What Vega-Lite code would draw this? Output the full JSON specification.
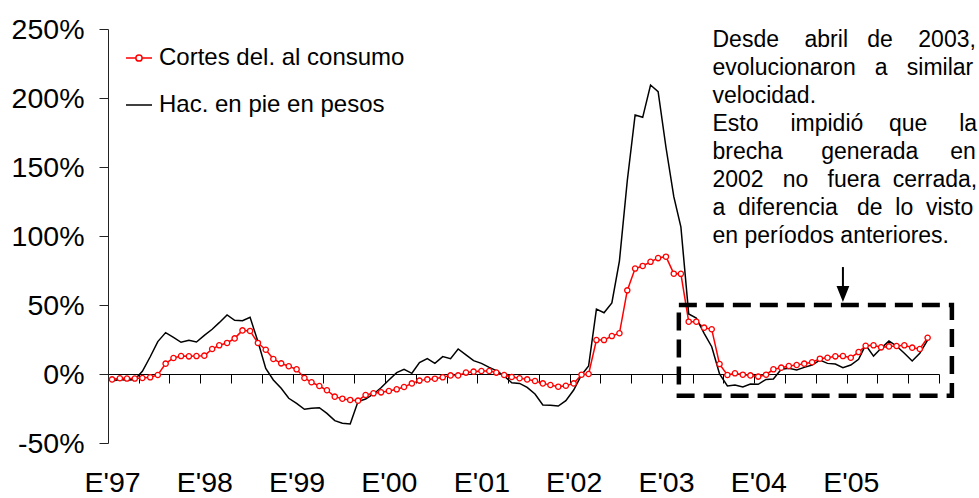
{
  "$schema": "https://vega.github.io/schema/vega-lite/v6.json",
  "width": 831,
  "height": 414,
  "autosize": {"type": "none"},
  "padding": {"left": 108, "top": 29, "right": 40, "bottom": 55},
  "background": "white",
  "config": {"view": {"stroke": null}, "font": "Liberation Sans"},
  "datasets": {
    "mensual": [
      {"fecha":"1997-01","cortes":-3.9,"hacienda":-5},
      {"fecha":"1997-02","cortes":-3.1,"hacienda":-4},
      {"fecha":"1997-03","cortes":-3.3,"hacienda":-4.5},
      {"fecha":"1997-04","cortes":-3.3,"hacienda":-4},
      {"fecha":"1997-05","cortes":-2.9,"hacienda":2},
      {"fecha":"1997-06","cortes":-2.4,"hacienda":12.5},
      {"fecha":"1997-07","cortes":-0.7,"hacienda":23.5},
      {"fecha":"1997-08","cortes":7.5,"hacienda":30},
      {"fecha":"1997-09","cortes":11.6,"hacienda":26.6},
      {"fecha":"1997-10","cortes":13.0,"hacienda":23},
      {"fecha":"1997-11","cortes":12.8,"hacienda":24.4},
      {"fecha":"1997-12","cortes":13.0,"hacienda":23.2},
      {"fecha":"1998-01","cortes":13.3,"hacienda":28},
      {"fecha":"1998-02","cortes":18.1,"hacienda":32.4},
      {"fecha":"1998-03","cortes":20.8,"hacienda":37.2},
      {"fecha":"1998-04","cortes":22.5,"hacienda":42.8},
      {"fecha":"1998-05","cortes":25.8,"hacienda":38.9},
      {"fecha":"1998-06","cortes":31.6,"hacienda":38.6},
      {"fecha":"1998-07","cortes":31.2,"hacienda":41.1},
      {"fecha":"1998-08","cortes":22.5,"hacienda":23.5},
      {"fecha":"1998-09","cortes":17.6,"hacienda":4.1},
      {"fecha":"1998-10","cortes":10.9,"hacienda":-4.3},
      {"fecha":"1998-11","cortes":7.7,"hacienda":-10.4},
      {"fecha":"1998-12","cortes":5.6,"hacienda":-17.6},
      {"fecha":"1999-01","cortes":3.4,"hacienda":-21.3},
      {"fecha":"1999-02","cortes":-2.9,"hacienda":-25.6},
      {"fecha":"1999-03","cortes":-6.0,"hacienda":-24.9},
      {"fecha":"1999-04","cortes":-8.7,"hacienda":-24.4},
      {"fecha":"1999-05","cortes":-11.8,"hacienda":-28.5},
      {"fecha":"1999-06","cortes":-16.4,"hacienda":-33.8},
      {"fecha":"1999-07","cortes":-17.9,"hacienda":-35.7},
      {"fecha":"1999-08","cortes":-18.8,"hacienda":-36.2},
      {"fecha":"1999-09","cortes":-19.3,"hacienda":-20},
      {"fecha":"1999-10","cortes":-15.2,"hacienda":-18.1},
      {"fecha":"1999-11","cortes":-14.0,"hacienda":-14.5},
      {"fecha":"1999-12","cortes":-13.3,"hacienda":-10},
      {"fecha":"2000-01","cortes":-12.3,"hacienda":-4.3},
      {"fecha":"2000-02","cortes":-11.1,"hacienda":1.0},
      {"fecha":"2000-03","cortes":-9.4,"hacienda":3.4},
      {"fecha":"2000-04","cortes":-6.8,"hacienda":0.5},
      {"fecha":"2000-05","cortes":-4.8,"hacienda":8.2},
      {"fecha":"2000-06","cortes":-3.9,"hacienda":11.1},
      {"fecha":"2000-07","cortes":-3.4,"hacienda":7.7},
      {"fecha":"2000-08","cortes":-2.4,"hacienda":12.6},
      {"fecha":"2000-09","cortes":-1.0,"hacienda":11.1},
      {"fecha":"2000-10","cortes":-1.0,"hacienda":18.1},
      {"fecha":"2000-11","cortes":1.0,"hacienda":13.8},
      {"fecha":"2000-12","cortes":1.7,"hacienda":9.7},
      {"fecha":"2001-01","cortes":2.2,"hacienda":7.7},
      {"fecha":"2001-02","cortes":2.2,"hacienda":4.8},
      {"fecha":"2001-03","cortes":1.0,"hacienda":2.4},
      {"fecha":"2001-04","cortes":-0.7,"hacienda":-1.4},
      {"fecha":"2001-05","cortes":-2.2,"hacienda":-6.3},
      {"fecha":"2001-06","cortes":-3.1,"hacienda":-6.8},
      {"fecha":"2001-07","cortes":-3.9,"hacienda":-9.7},
      {"fecha":"2001-08","cortes":-5.1,"hacienda":-14.5},
      {"fecha":"2001-09","cortes":-6.8,"hacienda":-22.5},
      {"fecha":"2001-10","cortes":-8.0,"hacienda":-22.7},
      {"fecha":"2001-11","cortes":-9.2,"hacienda":-23.2},
      {"fecha":"2001-12","cortes":-8.5,"hacienda":-19.3},
      {"fecha":"2002-01","cortes":-6.8,"hacienda":-11.6},
      {"fecha":"2002-02","cortes":-0.5,"hacienda":-0.7},
      {"fecha":"2002-03","cortes":0,"hacienda":5.8},
      {"fecha":"2002-04","cortes":24.6,"hacienda":47},
      {"fecha":"2002-05","cortes":24.6,"hacienda":44.4},
      {"fecha":"2002-06","cortes":27.5,"hacienda":51.5},
      {"fecha":"2002-07","cortes":29.5,"hacienda":82},
      {"fecha":"2002-08","cortes":60.6,"hacienda":140},
      {"fecha":"2002-09","cortes":76.4,"hacienda":187.7},
      {"fecha":"2002-10","cortes":78.3,"hacienda":186},
      {"fecha":"2002-11","cortes":81.3,"hacienda":209.4},
      {"fecha":"2002-12","cortes":84,"hacienda":204.6},
      {"fecha":"2003-01","cortes":85,"hacienda":164.3},
      {"fecha":"2003-02","cortes":72.7,"hacienda":128.5},
      {"fecha":"2003-03","cortes":72.6,"hacienda":106.7},
      {"fecha":"2003-04","cortes":37.9,"hacienda":43.5},
      {"fecha":"2003-05","cortes":37.9,"hacienda":40.5},
      {"fecha":"2003-06","cortes":33.6,"hacienda":29.5},
      {"fecha":"2003-07","cortes":32.4,"hacienda":19.8},
      {"fecha":"2003-08","cortes":7.2,"hacienda":0},
      {"fecha":"2003-09","cortes":-0.7,"hacienda":-8.7},
      {"fecha":"2003-10","cortes":0.5,"hacienda":-8.0},
      {"fecha":"2003-11","cortes":-0.5,"hacienda":-9.4},
      {"fecha":"2003-12","cortes":-1.0,"hacienda":-7.2},
      {"fecha":"2004-01","cortes":-1.9,"hacienda":-7.5},
      {"fecha":"2004-02","cortes":-0.5,"hacienda":-3.9},
      {"fecha":"2004-03","cortes":3.4,"hacienda":-3.6},
      {"fecha":"2004-04","cortes":4.6,"hacienda":3.4},
      {"fecha":"2004-05","cortes":5.8,"hacienda":4.1},
      {"fecha":"2004-06","cortes":6.5,"hacienda":2.9},
      {"fecha":"2004-07","cortes":7.5,"hacienda":4.8},
      {"fecha":"2004-08","cortes":8.5,"hacienda":6.5},
      {"fecha":"2004-09","cortes":11.1,"hacienda":10.1},
      {"fecha":"2004-10","cortes":11.8,"hacienda":7.7},
      {"fecha":"2004-11","cortes":12.8,"hacienda":7.2},
      {"fecha":"2004-12","cortes":13.0,"hacienda":4.6},
      {"fecha":"2005-01","cortes":11.8,"hacienda":6.5},
      {"fecha":"2005-02","cortes":15.9,"hacienda":10.6},
      {"fecha":"2005-03","cortes":20.5,"hacienda":21},
      {"fecha":"2005-04","cortes":20.8,"hacienda":13.0},
      {"fecha":"2005-05","cortes":19.3,"hacienda":18.6},
      {"fecha":"2005-06","cortes":20.0,"hacienda":23.9},
      {"fecha":"2005-07","cortes":20.3,"hacienda":20.3},
      {"fecha":"2005-08","cortes":20.8,"hacienda":15.0},
      {"fecha":"2005-09","cortes":19.1,"hacienda":9.4},
      {"fecha":"2005-10","cortes":18.1,"hacienda":15.0},
      {"fecha":"2005-11","cortes":26.3,"hacienda":24.6}
    ]
  },
  "resolve": {"axis": {"x": "independent", "y": "independent"}},
  "layer": [
    {
      "data": {"name": "mensual"},
      "transform": [{"fold": ["cortes", "hacienda"], "as": ["serie", "valor"]}],
      "mark": {"type": "line", "strokeWidth": 1.5},
      "encoding": {
        "x": {
          "field": "fecha", "type": "temporal",
          "scale": {"type": "utc", "domain": [{"year": 1996, "month": 12, "date": 16, "utc": true}, {"year": 2005, "month": 12, "date": 16, "utc": true}]},
          "axis": {
            "orient": "bottom", "offset": -69, "title": null, "grid": false, "labels": false,
            "tickSize": 9, "tickColor": "#000000", "domainColor": "#000000", "tickWidth": 1, "domainWidth": 1,
            "values": [
              {"year":1996,"month":12,"date":16,"utc":true},
              {"year":1997,"month":4,"date":16,"utc":true},{"year":1997,"month":8,"date":16,"utc":true},{"year":1997,"month":12,"date":16,"utc":true},
              {"year":1998,"month":4,"date":16,"utc":true},{"year":1998,"month":8,"date":16,"utc":true},{"year":1998,"month":12,"date":16,"utc":true},
              {"year":1999,"month":4,"date":16,"utc":true},{"year":1999,"month":8,"date":16,"utc":true},{"year":1999,"month":12,"date":16,"utc":true},
              {"year":2000,"month":4,"date":16,"utc":true},{"year":2000,"month":8,"date":16,"utc":true},{"year":2000,"month":12,"date":16,"utc":true},
              {"year":2001,"month":4,"date":16,"utc":true},{"year":2001,"month":8,"date":16,"utc":true},{"year":2001,"month":12,"date":16,"utc":true},
              {"year":2002,"month":4,"date":16,"utc":true},{"year":2002,"month":8,"date":16,"utc":true},{"year":2002,"month":12,"date":16,"utc":true},
              {"year":2003,"month":4,"date":16,"utc":true},{"year":2003,"month":8,"date":16,"utc":true},{"year":2003,"month":12,"date":16,"utc":true},
              {"year":2004,"month":4,"date":16,"utc":true},{"year":2004,"month":8,"date":16,"utc":true},{"year":2004,"month":12,"date":16,"utc":true},
              {"year":2005,"month":4,"date":16,"utc":true},{"year":2005,"month":8,"date":16,"utc":true},{"year":2005,"month":12,"date":16,"utc":true}
            ]
          }
        },
        "y": {
          "field": "valor", "type": "quantitative",
          "scale": {"domain": [-50, 250], "nice": false, "zero": false},
          "axis": {
            "orient": "left", "title": null, "grid": false, "values": [-50, 0, 50, 100, 150, 200, 250],
            "labelExpr": "datum.value + '%'", "labelFontSize": 28.5, "labelFont": "Liberation Sans",
            "labelColor": "#000000", "labelPadding": 15, "tickSize": 9, "tickColor": "#222222",
            "domainColor": "#222222", "labelFlush": false, "labelOverlap": false
          }
        },
        "color": {
          "field": "serie", "type": "nominal",
          "scale": {"domain": ["cortes", "hacienda"], "range": ["#FF0000", "#000000"]},
          "legend": {
            "orient": "none", "legendX": 17, "legendY": 15, "title": null, "padding": 0,
            "labelExpr": "datum.value == 'cortes' ? 'Cortes del. al consumo' : 'Hac. en pie en pesos'",
            "labelFontSize": 24, "labelFont": "Liberation Sans", "labelColor": "#000000", "labelLimit": 500,
            "symbolSize": 676, "symbolStrokeWidth": 1.5, "labelOffset": 6, "rowPadding": 21,
            "encode": {
              "symbols": {
                "update": {
                  "shape": {"signal": "datum.value == 'cortes' ? 'M-1,0H-0.24M0.24,0H1M0.24,0A0.24,0.24,0,1,1,-0.24,0A0.24,0.24,0,1,1,0.24,0' : 'M-1,0H1'"},
                  "fill": {"value": "#ffffff"},
                  "strokeWidth": {"value": 1.5}
                }
              }
            }
          }
        }
      }
    },
    {
      "data": {"name": "mensual"},
      "mark": {"type": "point", "shape": "circle", "filled": true, "fill": "#ffffff", "stroke": "#FF0000", "strokeWidth": 1.3, "size": 28, "opacity": 1},
      "encoding": {
        "x": {
          "field": "fecha", "type": "temporal",
          "axis": {
            "orient": "bottom", "offset": 0, "title": null, "grid": false, "domain": false, "ticks": false,
            "labelExpr": "\"E'\" + utcFormat(datum.value, '%y')", "labelFontSize": 28.5, "labelFont": "Liberation Sans",
            "labelColor": "#000000", "labelBaseline": "alphabetic", "labelPadding": 48, "labelFlush": false, "labelOverlap": false,
            "values": [
              {"year":1997,"month":1,"date":1,"utc":true},{"year":1998,"month":1,"date":1,"utc":true},{"year":1999,"month":1,"date":1,"utc":true},
              {"year":2000,"month":1,"date":1,"utc":true},{"year":2001,"month":1,"date":1,"utc":true},{"year":2002,"month":1,"date":1,"utc":true},
              {"year":2003,"month":1,"date":1,"utc":true},{"year":2004,"month":1,"date":1,"utc":true},{"year":2005,"month":1,"date":1,"utc":true}
            ]
          }
        },
        "y": {"field": "cortes", "type": "quantitative", "axis": null}
      }
    },
    {
      "data": {"values": [{}]},
      "mark": {"type": "rect", "fill": null, "fillOpacity": 0, "stroke": "#000000", "strokeWidth": 4.5, "strokeDash": [18, 9]},
      "encoding": {
        "x": {"datum": {"year": 2003, "month": 2, "date": 21, "utc": true}, "type": "temporal", "axis": null},
        "x2": {"datum": {"year": 2006, "month": 2, "date": 5, "utc": true}},
        "y": {"datum": 50, "type": "quantitative", "axis": null},
        "y2": {"datum": -15.7}
      }
    },
    {
      "data": {"values": [{}]},
      "mark": {"type": "rule", "stroke": "#000000", "strokeWidth": 2},
      "encoding": {
        "x": {"datum": {"year": 2004, "month": 12, "date": 1, "utc": true}, "type": "temporal", "axis": null},
        "y": {"datum": 77.5, "type": "quantitative", "axis": null},
        "y2": {"datum": 63}
      }
    },
    {
      "data": {"values": [{}]},
      "mark": {"type": "point", "shape": "M-0.8,-1L0.8,-1L0,1Z", "filled": true, "fill": "#000000", "stroke": null, "size": 256, "opacity": 1},
      "encoding": {
        "x": {"datum": {"year": 2004, "month": 12, "date": 1, "utc": true}, "type": "temporal", "axis": null},
        "y": {"datum": 58, "type": "quantitative", "axis": null}
      }
    },
    {
      "data": {"values": [{}]},
      "mark": {
        "type": "text", "align": "left", "baseline": "alphabetic", "fontSize": 23, "font": "Liberation Sans",
        "lineHeight": 28, "color": "#000000",
        "text": [
          "Desde\u00a0\u00a0\u00a0\u00a0abril\u00a0\u00a0\u00a0de\u00a0\u00a0\u00a0\u00a02003,",
          "evolucionaron\u00a0\u00a0\u00a0a\u00a0\u00a0\u00a0similar",
          "velocidad.",
          "Esto\u00a0\u00a0\u00a0\u00a0\u00a0impidió\u00a0\u00a0\u00a0\u00a0que\u00a0\u00a0\u00a0\u00a0\u00a0la",
          "brecha\u00a0\u00a0\u00a0\u00a0\u00a0\u00a0generada\u00a0\u00a0\u00a0\u00a0\u00a0en",
          "2002\u00a0\u00a0\u00a0no\u00a0\u00a0\u00a0fuera\u00a0\u00a0cerrada,",
          "a\u00a0\u00a0diferencia\u00a0\u00a0\u00a0de\u00a0\u00a0lo\u00a0\u00a0visto",
          "en períodos anteriores."
        ]
      },
      "encoding": {
        "x": {"datum": {"year": 2003, "month": 7, "date": 4, "utc": true}, "type": "temporal", "axis": null},
        "y": {"datum": 237.3, "type": "quantitative", "axis": null}
      }
    }
  ]
}
